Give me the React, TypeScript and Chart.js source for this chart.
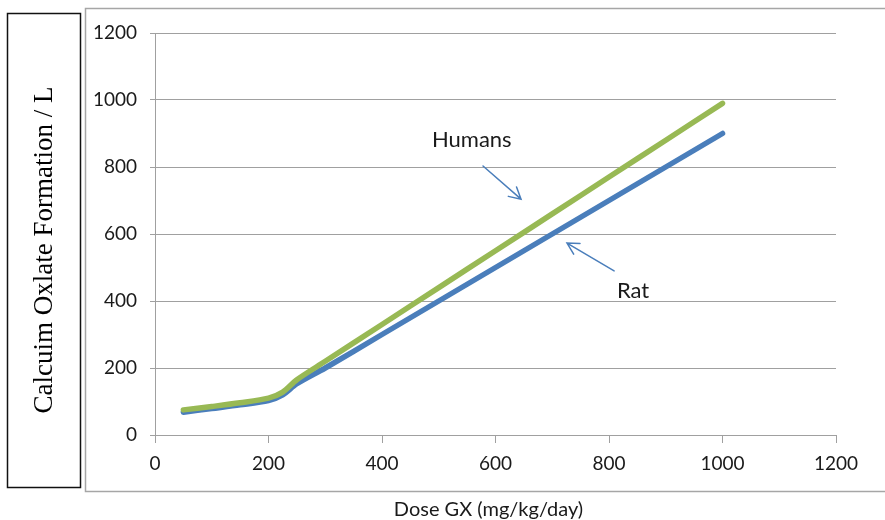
import React, { useEffect, useRef } from "react";
import { Chart, registerables } from "chart.js";

Chart.register(...registerables);

const doses = [50, 100, 150, 200, 225, 250, 300, 400, 500, 600, 700, 800, 900, 1000];
const humans = [75, 85, 96, 110, 128, 165, 220, 330, 440, 550, 660, 770, 880, 990];
const rat = [68, 79, 90, 103, 120, 153, 200, 300, 400, 500, 600, 700, 800, 900];

const xTicks = [0, 200, 400, 600, 800, 1000, 1200];
const yTicks = [0, 200, 400, 600, 800, 1000, 1200];

const yTitle = "Calcuim Oxlate Formation / L";
const xTitle = "Dose GX (mg/kg/day)";

// annotation labels: text with data anchor (left, baseline)
const labelHumans = { text: "Humans", x: 488, y: 860 };
const labelRat = { text: "Rat", x: 814, y: 409 };
// arrows: tail -> tip in data coords
const arrowHumans = { x1: 578, y1: 803, x2: 645, y2: 704 };
const arrowRat = { x1: 809, y1: 490, x2: 726, y2: 573 };

const SANS = "Lato, 'Open Sans', sans-serif";

export default function App() {
  const ref = useRef<HTMLCanvasElement | null>(null);

  useEffect(() => {
    const canvas = ref.current;
    if (!canvas) return;

    const decor = {
      id: "decor",
      beforeDraw(chart: any) {
        const ctx = chart.ctx;
        ctx.save();
        ctx.fillStyle = "#ffffff";
        ctx.fillRect(0, 0, chart.width, chart.height);
        ctx.lineWidth = 1.5;
        ctx.strokeStyle = "#111111";
        ctx.strokeRect(7.5, 13.5, 73, 474);
        ctx.strokeStyle = "#a6a6a6";
        ctx.strokeRect(85.5, 8.5, 820, 483);
        ctx.restore();
      },
      afterDraw(chart: any) {
        const ctx = chart.ctx;
        const xs = chart.scales.x;
        const ys = chart.scales.y;
        ctx.save();
        ctx.fillStyle = "#000000";
        ctx.font = "27px 'Liberation Serif', 'Times New Roman', serif";
        ctx.textAlign = "center";
        ctx.textBaseline = "alphabetic";
        ctx.translate(52, 250);
        ctx.rotate(-Math.PI / 2);
        ctx.fillText(yTitle, 0, 0);
        ctx.restore();

        ctx.save();
        ctx.fillStyle = "#1a1a1a";
        ctx.font = "20px " + SANS;
        ctx.textAlign = "center";
        ctx.textBaseline = "alphabetic";
        ctx.fillText(xTitle, 488.5, 516);

        ctx.font = "22px " + SANS;
        ctx.textAlign = "left";
        ctx.fillText(labelHumans.text, xs.getPixelForValue(labelHumans.x), ys.getPixelForValue(labelHumans.y));
        ctx.fillText(labelRat.text, xs.getPixelForValue(labelRat.x), ys.getPixelForValue(labelRat.y));

        const drawArrow = (a: any) => {
          const x1 = xs.getPixelForValue(a.x1);
          const y1 = ys.getPixelForValue(a.y1);
          const x2 = xs.getPixelForValue(a.x2);
          const y2 = ys.getPixelForValue(a.y2);
          const ang = Math.atan2(y2 - y1, x2 - x1);
          const len = 13;
          const spread = 0.5;
          ctx.strokeStyle = "#4a7ebb";
          ctx.lineWidth = 1.5;
          ctx.lineCap = "round";
          ctx.beginPath();
          ctx.moveTo(x1, y1);
          ctx.lineTo(x2, y2);
          ctx.moveTo(x2 - len * Math.cos(ang - spread), y2 - len * Math.sin(ang - spread));
          ctx.lineTo(x2, y2);
          ctx.lineTo(x2 - len * Math.cos(ang + spread), y2 - len * Math.sin(ang + spread));
          ctx.stroke();
        };
        drawArrow(arrowHumans);
        drawArrow(arrowRat);
        ctx.restore();
      },
    };

    const chart = new Chart(canvas, {
      type: "line",
      data: {
        datasets: [
          {
            label: "Humans",
            data: doses.map((d, i) => ({ x: d, y: humans[i] })),
            borderColor: "#98b954",
            backgroundColor: "#98b954",
            borderWidth: 5.5,
            pointRadius: 0,
            tension: 0.3,
            borderCapStyle: "round",
            borderJoinStyle: "round",
          },
          {
            label: "Rat",
            data: doses.map((d, i) => ({ x: d, y: rat[i] })),
            borderColor: "#4a7ebb",
            backgroundColor: "#4a7ebb",
            borderWidth: 5.5,
            pointRadius: 0,
            tension: 0.3,
            borderCapStyle: "round",
            borderJoinStyle: "round",
          },
        ],
      },
      options: {
        animation: false,
        responsive: false,
        devicePixelRatio: 1,
        layout: { padding: { left: 0, top: 33, right: 49, bottom: 0 } },
        plugins: {
          legend: { display: false },
          tooltip: { enabled: false },
        },
        scales: {
          x: {
            type: "linear",
            min: xTicks[0],
            max: xTicks[xTicks.length - 1],
            afterFit: (s: any) => {
              s.height = 85;
            },
            afterBuildTicks: (s: any) => {
              s.ticks = xTicks.map((v) => ({ value: v }));
            },
            ticks: {
              color: "#1a1a1a",
              font: { family: SANS, size: 19 },
              padding: 9,
              maxRotation: 0,
              autoSkip: false,
              callback: (v: any) => String(v),
            },
            grid: {
              drawOnChartArea: false,
              drawTicks: true,
              tickLength: 8,
              color: "#a0a0a0",
            },
            border: { display: true, color: "#a0a0a0", width: 1 },
          },
          y: {
            type: "linear",
            min: yTicks[0],
            max: yTicks[yTicks.length - 1],
            afterFit: (s: any) => {
              s.width = 155;
            },
            afterBuildTicks: (s: any) => {
              s.ticks = yTicks.map((v) => ({ value: v }));
            },
            ticks: {
              color: "#1a1a1a",
              font: { family: SANS, size: 19 },
              padding: 13,
              callback: (v: any) => String(v),
            },
            grid: {
              drawTicks: true,
              tickLength: 5,
              color: "#a0a0a0",
            },
            border: { display: true, color: "#a0a0a0", width: 1 },
          },
        },
      },
      plugins: [decor],
    } as any);

    return () => chart.destroy();
  }, []);

  return (
    <div style={{ position: "absolute", left: 0, top: 0, width: 885, height: 520 }}>
      <canvas ref={ref} width={885} height={520} style={{ display: "block" }} />
    </div>
  );
}
